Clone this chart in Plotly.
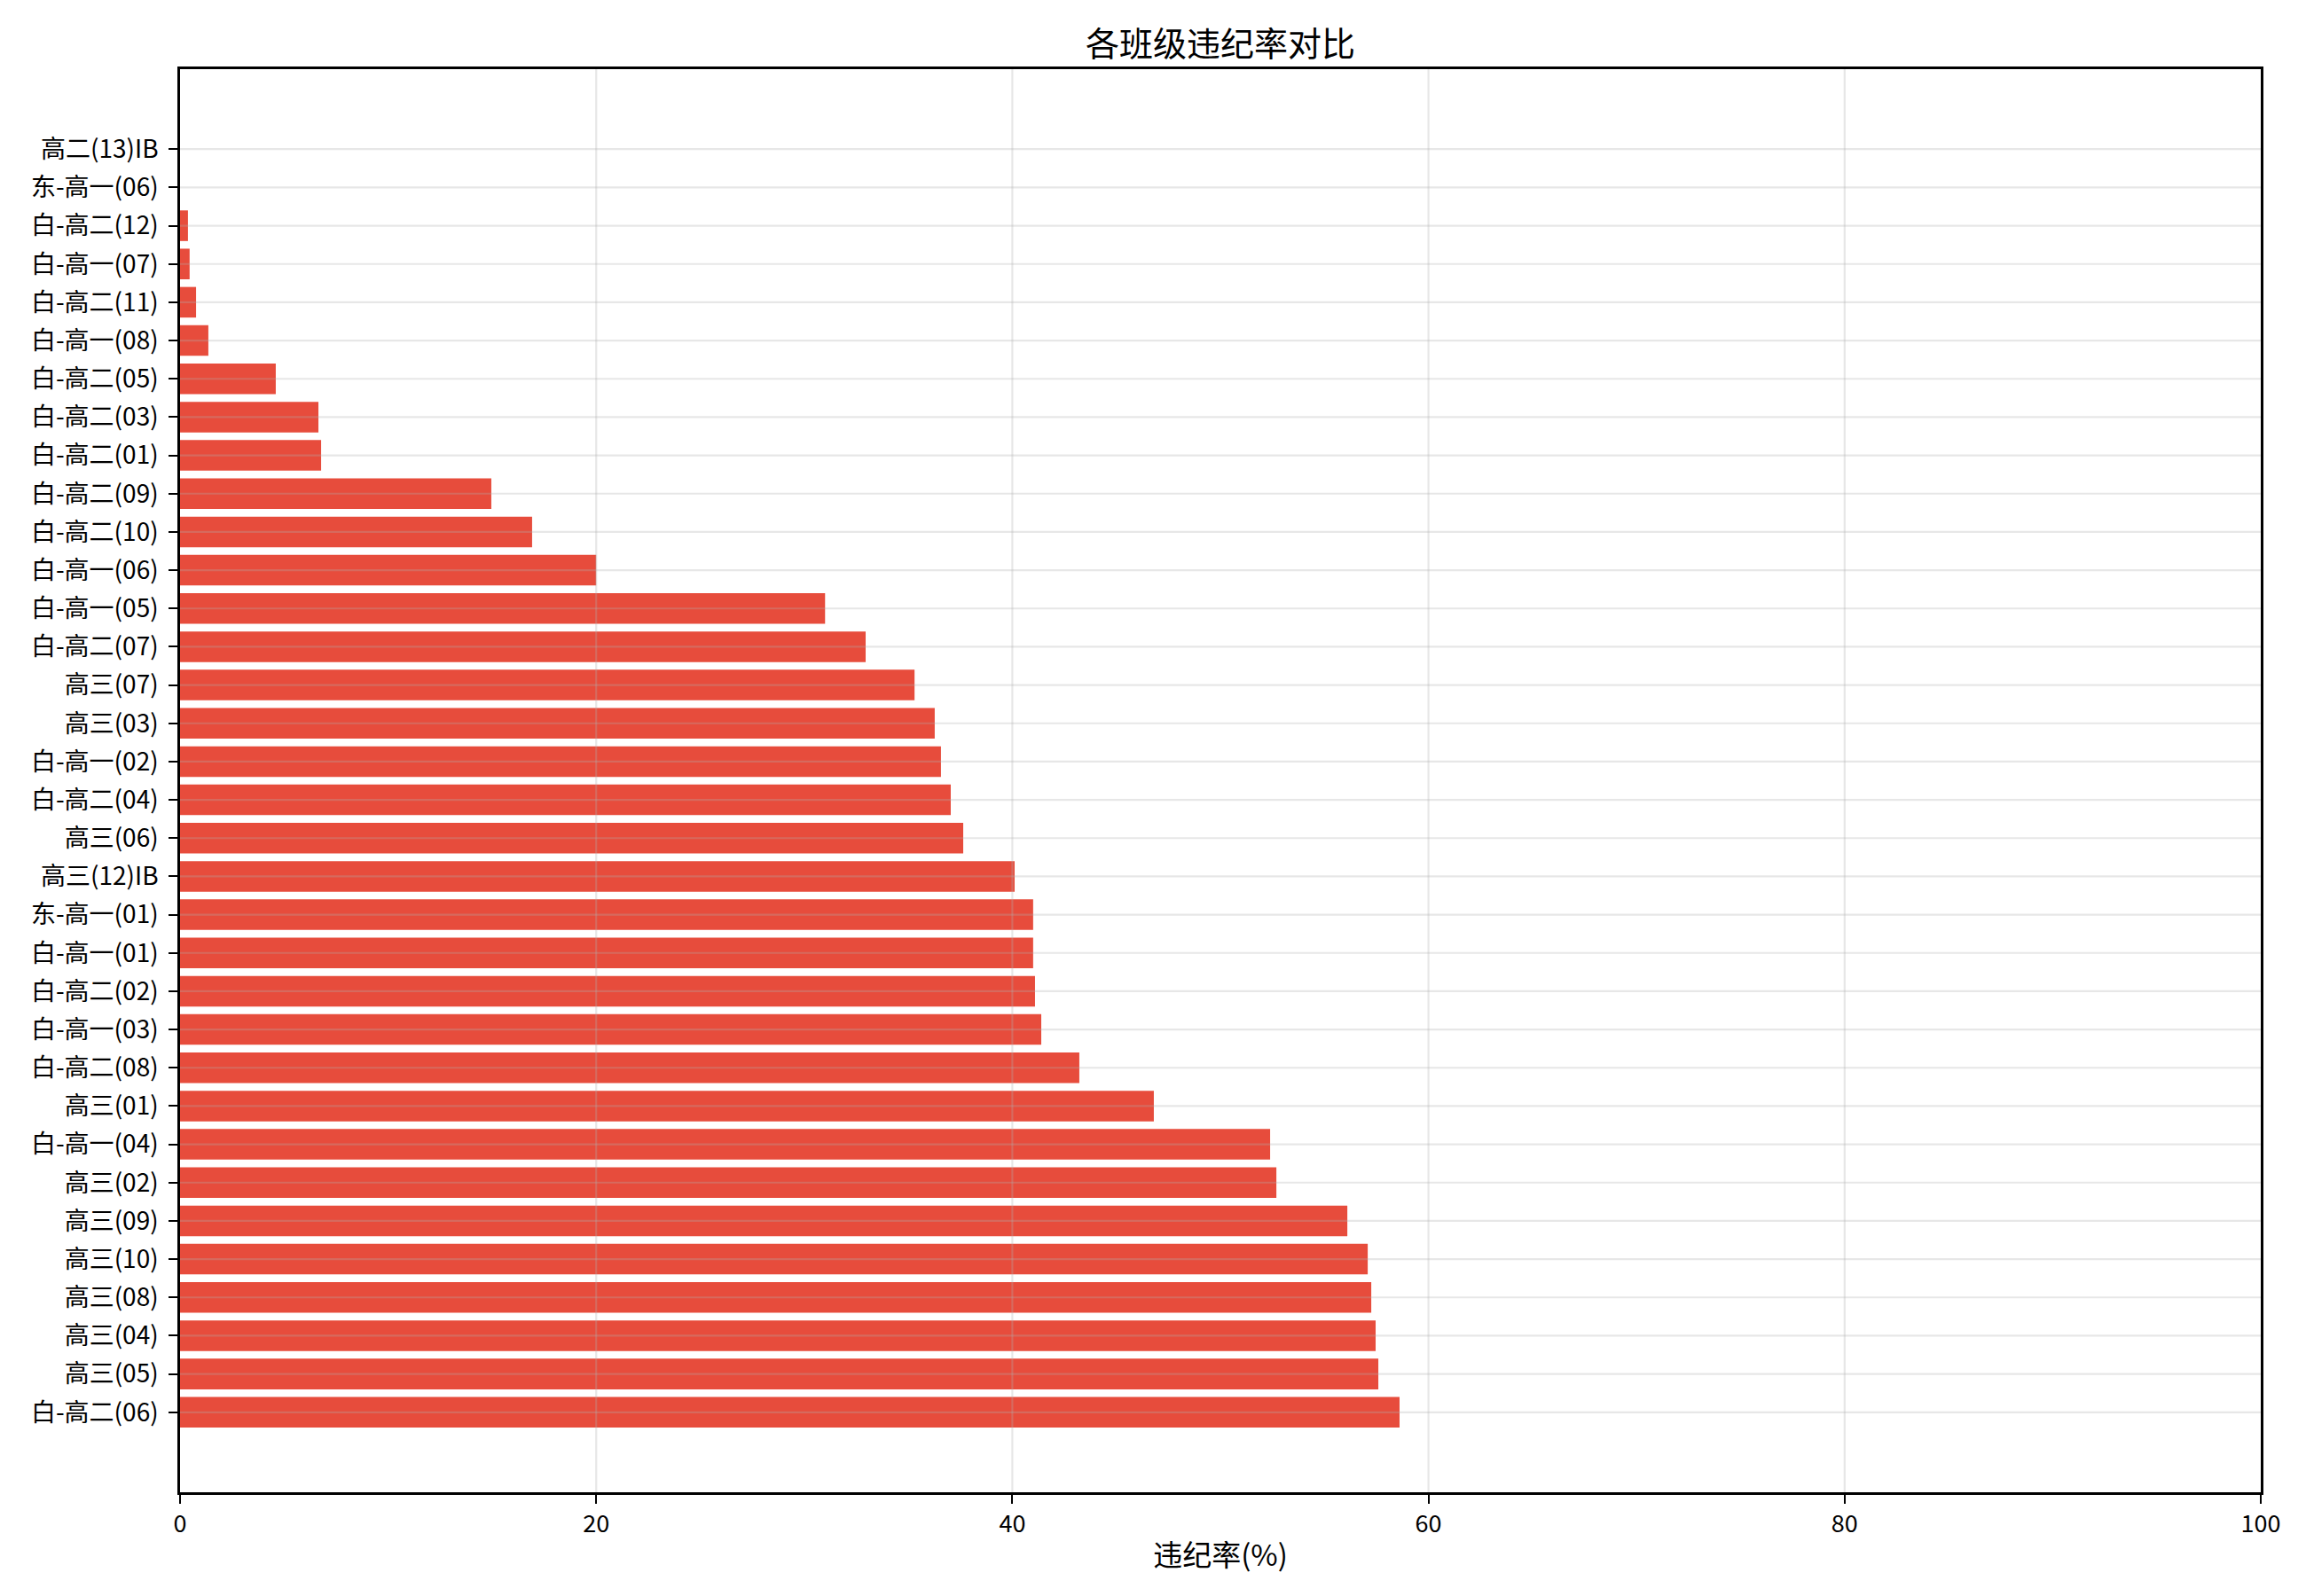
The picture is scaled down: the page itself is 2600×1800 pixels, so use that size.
import plotly.graph_objects as go

# Data (top-to-bottom as displayed)
classes = [
    "高二(13)IB", "东-高一(06)", "白-高二(12)", "白-高一(07)", "白-高二(11)",
    "白-高一(08)", "白-高二(05)", "白-高二(03)", "白-高二(01)", "白-高二(09)",
    "白-高二(10)", "白-高一(06)", "白-高一(05)", "白-高二(07)", "高三(07)",
    "高三(03)", "白-高一(02)", "白-高二(04)", "高三(06)", "高三(12)IB",
    "东-高一(01)", "白-高一(01)", "白-高二(02)", "白-高一(03)", "白-高二(08)",
    "高三(01)", "白-高一(04)", "高三(02)", "高三(09)", "高三(10)",
    "高三(08)", "高三(04)", "高三(05)", "白-高二(06)",
]
rates = [
    0.0, 0.0, 0.38, 0.46, 0.77,
    1.36, 4.6, 6.65, 6.78, 14.96,
    16.92, 20.0, 31.0, 32.95, 35.3,
    36.27, 36.57, 37.04, 37.64, 40.11,
    41.0, 41.0, 41.09, 41.39, 43.22,
    46.8, 52.39, 52.69, 56.1, 57.08,
    57.25, 57.46, 57.59, 58.61,
]
x_ticks = [0, 20, 40, 60, 80, 100]

FONT = "Noto Sans CJK SC"
BAR_COLOR = "#E74C3C"
GRID = "rgba(176,176,176,0.3)"

n = len(classes)
fig = go.Figure()
fig.add_trace(go.Bar(
    x=rates, y=classes, orientation="h",
    marker=dict(color=BAR_COLOR, line=dict(width=0)),
    width=0.8,
))

shapes = []
for t in x_ticks[1:-1]:
    shapes.append(dict(type="line", xref="x", yref="paper", x0=t, x1=t, y0=0, y1=1,
                       line=dict(color=GRID, width=2.2), layer="above"))
for c in classes:
    shapes.append(dict(type="line", xref="paper", yref="y", x0=0, x1=1, y0=c, y1=c,
                       line=dict(color=GRID, width=2.2), layer="above"))

fig.update_layout(
    width=2600, height=1800,
    margin=dict(l=195, r=59, t=70, b=125),
    paper_bgcolor="white", plot_bgcolor="white",
    showlegend=False,
    shapes=shapes,
    font=dict(family=FONT, color="black", size=28),
    title=dict(text="各班级违纪率对比", x=(195 + 2541) / 2 / 2600, xanchor="center",
               y=1 - 42 / 1800, yanchor="middle", yref="container",
               font=dict(family=FONT, size=38, color="black")),
    xaxis=dict(
        range=[0, 100], tickvals=x_ticks, ticktext=[str(t) for t in x_ticks],
        showgrid=False, zeroline=False,
        showline=True, linecolor="black", linewidth=2.5, mirror=True,
        ticks="outside", ticklen=10, tickwidth=2.2, tickcolor="black",
        tickfont=dict(family=FONT, size=27),
        title=dict(text="违纪率(%)", font=dict(family=FONT, size=33), standoff=8),
    ),
    yaxis=dict(
        type="category", categoryorder="array", categoryarray=classes,
        range=[n - 1 + 2.09, -2.09],
        showgrid=False, zeroline=False,
        showline=True, linecolor="black", linewidth=2.5, mirror=True,
        ticks="outside", ticklen=10, tickwidth=2.2, tickcolor="black",
        tickfont=dict(family=FONT, size=28),
        ticklabelstandoff=6,
    ),
)

fig.write_html("out.html")
